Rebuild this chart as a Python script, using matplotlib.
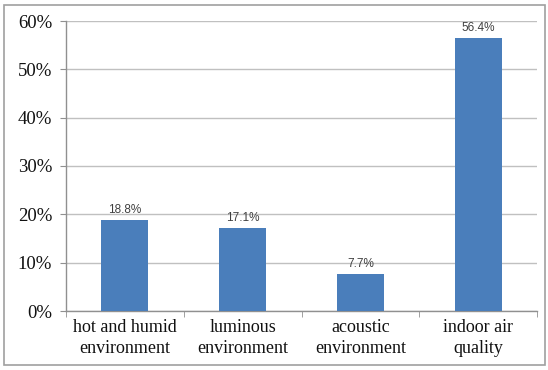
import matplotlib
matplotlib.use("Agg")
import matplotlib.pyplot as plt
from matplotlib.patches import Rectangle
from matplotlib.ticker import FuncFormatter

categories = ["hot and humid\nenvironment", "luminous\nenvironment",
              "acoustic\nenvironment", "indoor air\nquality"]
values = [18.8, 17.1, 7.7, 56.4]
yticks = [0, 10, 20, 30, 40, 50, 60]

W, H = 548, 370
fig = plt.figure(figsize=(W / 100, H / 100), dpi=100)
ax = fig.add_axes([66 / W, 59 / H, (537 - 66) / W, (311 - 21) / H])

x = list(range(len(categories)))
bars = ax.bar(x, values, width=0.4, color="#4a7ebb", zorder=3)

for xi, v in zip(x, values):
    ax.annotate(f"{v}%", (xi, v), xytext=(0, 3), textcoords="offset points",
                ha="center", va="bottom", fontsize=8.5, color="#404040",
                family="Liberation Sans")

ax.set_xlim(-0.5, len(categories) - 0.5)
ax.set_ylim(0, 60)
ax.set_yticks(yticks)
ax.yaxis.set_major_formatter(FuncFormatter(lambda v, p: f"{v:.0f}%"))
ax.grid(axis="y", color="#c0c0c0", linewidth=1.0, zorder=0)

ax.set_xticks(x)
ax.set_xticklabels(categories, family="Liberation Serif", fontsize=13, color="#111111",
                   linespacing=1.28)
ax.set_xticks([i - 0.5 for i in range(len(categories) + 1)], minor=True)
ax.tick_params(axis="x", which="major", length=0, pad=6)
ax.tick_params(axis="x", which="minor", length=4, color="#909090", direction="out")
for lbl in ax.get_yticklabels():
    lbl.set_family("Liberation Serif")
ax.tick_params(axis="y", labelsize=13.5, labelcolor="#111111", length=4,
               color="#909090", pad=6)

for s in ("top", "right"):
    ax.spines[s].set_visible(False)
for s in ("left", "bottom"):
    ax.spines[s].set_color("#909090")
    ax.spines[s].set_linewidth(1.0)

fig.patches.append(Rectangle((4 / W, 5 / H), 541 / W, 360 / H, transform=fig.transFigure,
                             fill=False, edgecolor="#a0a0a0", linewidth=1.2))

fig.savefig("out.png", dpi=100)
